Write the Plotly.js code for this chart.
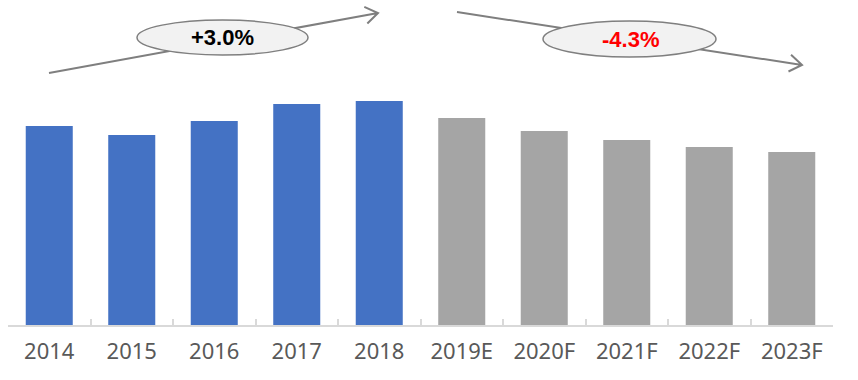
<!DOCTYPE html>
<html><head><meta charset="utf-8">
<script src="https://cdn.plot.ly/plotly-3.0.1.min.js"></script>
<style>html,body{margin:0;padding:0;background:#fff}#chart{width:858px;height:380px}</style>
</head><body><div id="chart"></div>
<script>
var categories = ["2014","2015","2016","2017","2018","2019E","2020F","2021F","2022F","2023F"];
var values = [199,190,204,221,224,207,194,185,178,173];
var barColors = ["#4472c4","#4472c4","#4472c4","#4472c4","#4472c4","#a5a5a5","#a5a5a5","#a5a5a5","#a5a5a5","#a5a5a5"];
var growthLabels = ["+3.0%","-4.3%"];
var growthColors = ["#000000","#ff0000"];

var W=858,H=380,ML=8,MR=25,MT=0,MB=55;
var PW=W-ML-MR, PH=H-MT-MB;
function px(x){return (x-ML)/PW;}
function py(y){return (H-MB-y)/PH;}

function arrow(x0,y0,x1,y1){
  var dx=x1-x0, dy=y1-y0, L=Math.sqrt(dx*dx+dy*dy), ux=dx/L, uy=dy/L;
  var a=15, s=0.6;
  var ax1=x1-a*(ux*Math.cos(s)-uy*Math.sin(s)), ay1=y1-a*(uy*Math.cos(s)+ux*Math.sin(s));
  var ax2=x1-a*(ux*Math.cos(-s)-uy*Math.sin(-s)), ay2=y1-a*(uy*Math.cos(-s)+ux*Math.sin(-s));
  var p='M'+px(x0)+','+py(y0)+' L'+px(x1)+','+py(y1)+' M'+px(ax1)+','+py(ay1)+' L'+px(x1)+','+py(y1)+' L'+px(ax2)+','+py(ay2);
  return {type:'path',xref:'paper',yref:'paper',path:p,line:{color:'#7f7f7f',width:2},layer:'above'};
}
function ellipse(x0,y0,x1,y1){
  return {type:'circle',xref:'paper',yref:'paper',x0:px(x0),x1:px(x1),y0:py(y1),y1:py(y0),
    fillcolor:'#f2f2f2',line:{color:'#7f7f7f',width:1.5},layer:'above'};
}

var shapes=[arrow(49,73,378,13),ellipse(137,20,308,55),arrow(457,12,802,65),ellipse(543,21,716,57)];
var annotations=[
  {xref:'paper',yref:'paper',x:px(222),y:py(38),text:'<b>'+growthLabels[0]+'</b>',showarrow:false,font:{family:'Liberation Sans, Arial',size:22,color:growthColors[0]},xanchor:'center',yanchor:'middle'},
  {xref:'paper',yref:'paper',x:px(630),y:py(39),text:'<b>'+growthLabels[1]+'</b>',showarrow:false,font:{family:'Liberation Sans, Arial',size:22,color:growthColors[1]},xanchor:'center',yanchor:'middle'}
];

var trace={type:'bar',x:categories,y:values,marker:{color:barColors},hoverinfo:'none'};
var layout={
  width:W,height:H,margin:{l:ML,r:MR,t:MT,b:MB,pad:0},
  paper_bgcolor:'#fff',plot_bgcolor:'#fff',showlegend:false,bargap:0.43,
  xaxis:{type:'category',range:[-0.5,9.5],showline:true,linecolor:'#d9d9d9',linewidth:2,
    ticks:'inside',tickson:'boundaries',ticklen:6,tickcolor:'#d9d9d9',tickwidth:2,ticklabelstandoff:6,
    tickfont:{family:'Noto Sans, Liberation Sans, Arial',size:22,color:'#595959'},showgrid:false,zeroline:false,fixedrange:true},
  yaxis:{range:[0,PH],visible:false,showgrid:false,zeroline:false,fixedrange:true},
  shapes:shapes,annotations:annotations
};
Plotly.newPlot('chart',[trace],layout,{displayModeBar:false,staticPlot:true});
</script></body></html>
